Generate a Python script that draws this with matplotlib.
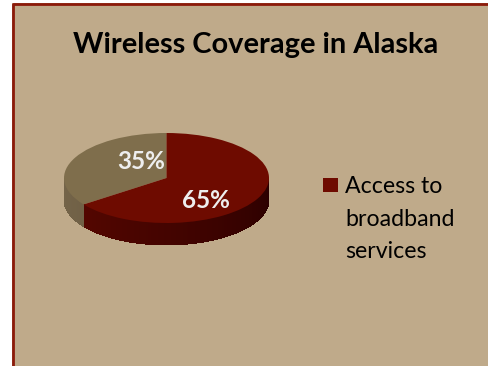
import numpy as np
import matplotlib
matplotlib.use("Agg")
import matplotlib.pyplot as plt
from matplotlib.patches import Rectangle, Polygon
from matplotlib.colors import to_rgb

# ---- data ----
title = "Wireless Coverage in Alaska"
categories = ["", "Access to\nbroadband\nservices"]
values = [35, 65]
top_colors = ["#7F6E4C", "#6E0B00"]
side_dark = ["#5E5036", "#2A0000"]
side_light = ["#75654A", "#5E0800"]

W, H = 489, 366
fig = plt.figure(figsize=(W / 100, H / 100), dpi=100)
fig.patch.set_facecolor("white")

# background axes in pixel coords
bg = fig.add_axes([0, 0, 1, 1])
bg.set_xlim(0, W)
bg.set_ylim(H, 0)
bg.axis("off")
bg.add_patch(Rectangle((12, 3), W - 12, H - 3, facecolor="#BFAA8A", edgecolor="none", zorder=0))
bg.plot([13, 13, W], [H, 4, 4], color="#8B1A0A", lw=2.0, solid_capstyle="butt", zorder=1)

bg.text(256, 53, title, ha="center", va="baseline", fontsize=20.9,
        fontweight="bold", family="Lato", color="black")

# ---- 3D pie ----
x0, x1 = 64, 269
ytop, yface_bot, ybot = 133, 223, 245
px_per_unit_y = (yface_bot - ytop) / 2.0
depth = (ybot - yface_bot) / px_per_unit_y
ax = fig.add_axes([x0 / W, 1 - ybot / H, (x1 - x0) / W, (ybot - ytop) / H])

# side walls (front half)
cum = np.cumsum([0] + values) / sum(values) * 360.0 + 90.0
for i in range(len(values)):
    a0, a1 = cum[i], cum[i + 1]
    lo, hi = max(a0, 180.0), min(a1, 360.0)
    if hi <= lo:
        continue
    angs = np.linspace(lo, hi, int((hi - lo)) + 2)
    cl, cd = np.array(to_rgb(side_light[i])), np.array(to_rgb(side_dark[i]))
    for j in range(len(angs) - 1):
        t0 = np.radians(angs[j])
        t1 = np.radians(min(angs[j + 1] + 1.5, hi))
        f = (angs[j] - 180.0) / 180.0
        c = cl * (1 - f) + cd * f
        xs = [np.cos(t0), np.cos(t1), np.cos(t1), np.cos(t0)]
        ys = [np.sin(t0), np.sin(t1), np.sin(t1) - depth, np.sin(t0) - depth]
        ax.add_patch(Polygon(list(zip(xs, ys)), closed=True, facecolor=c,
                             edgecolor="none", antialiased=False, zorder=1 + j * 1e-4))

wedges, _ = ax.pie(values, colors=top_colors, startangle=90, counterclock=True,
                   radius=1, center=(0, 0), frame=True,
                   wedgeprops=dict(linewidth=0, zorder=2))
ax.set_xlim(-1, 1)
ax.set_ylim(-1 - depth, 1)
ax.set_aspect("auto")
ax.axis("off")

label_pos = [(-0.25, 0.36), (0.385, -0.49)]
for v, (lx, ly) in zip(values, label_pos):
    ax.text(lx, ly, f"{v}%", ha="center", va="center", fontsize=17.5,
            fontweight="bold", family="Lato", color="#EEEEEE", zorder=5)

# ---- legend (manual) ----
bg.add_patch(Rectangle((323, 178), 15, 14, facecolor=top_colors[1], edgecolor="none", zorder=2))
for k, line in enumerate(categories[1].split("\n")):
    bg.text(345, 193 + 32.5 * k, line, ha="left", va="baseline", fontsize=16.7,
            family="Lato", color="black", zorder=2)

fig.savefig("out.png", dpi=100, facecolor=fig.get_facecolor())
